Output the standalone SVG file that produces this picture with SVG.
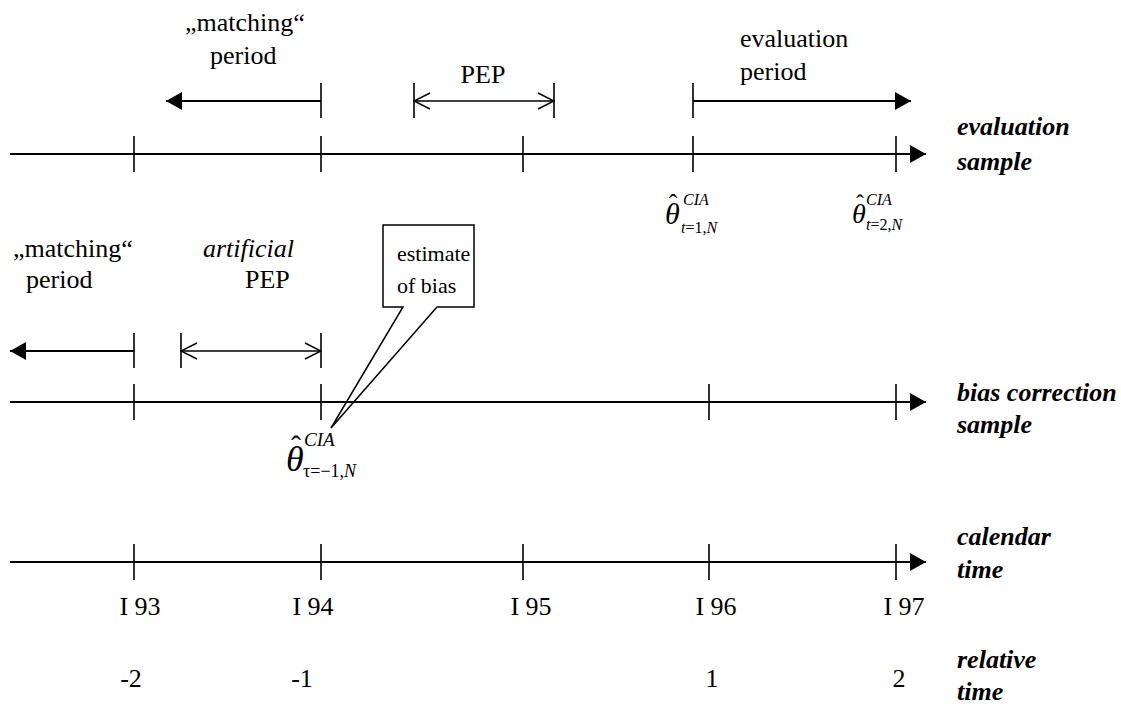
<svg xmlns="http://www.w3.org/2000/svg" width="1121" height="706" viewBox="0 0 1121 706">
  <style>
    text { font-family: "Liberation Serif", "Times New Roman", serif; fill: #000; }
    .lbl { font-size: 26px; }
    .it { font-style: italic; }
    .up { font-style: normal; }
    .axis-name { font-size: 26px; font-style: italic; font-weight: bold; }
    .callout { font-size: 22px; }
    .axis { stroke: #000; stroke-width: 2; fill: none; }
    .tick { stroke: #000; stroke-width: 1.6; fill: none; }
    .span { stroke: #000; stroke-width: 2; fill: none; }
    .thin { stroke: #000; stroke-width: 1.4; fill: none; }
    .theta { font-style: italic; }
    .hat { font-style: normal; }
  </style>
  <defs>
    <marker id="solid" viewBox="0 0 16 18" refX="16" refY="9" markerWidth="16" markerHeight="18" markerUnits="userSpaceOnUse" orient="auto">
      <path d="M0,0 L16,9 L0,18 Z" fill="#000"/>
    </marker>
    <marker id="open" viewBox="0 0 18 18" refX="17" refY="9" markerWidth="18" markerHeight="18" markerUnits="userSpaceOnUse" orient="auto-start-reverse">
      <path d="M1,1 L17,9 L1,17" fill="none" stroke="#000" stroke-width="1.4"/>
    </marker>
  </defs>

  <!-- callout drawn first so the axis shows through its pointer -->
  <g id="callout-bias">
    <path d="M383,225 H474 V307 H437 L331,428 L403,307 H383 Z" fill="#fff" stroke="#000" stroke-width="1.5"/>
    <text class="callout" x="397" y="261">estimate</text>
    <text class="callout" x="397" y="293">of  bias</text>
  </g>

  <g id="connectors">
    <!-- evaluation sample axis -->
    <line class="axis" x1="10" y1="154" x2="926" y2="154" marker-end="url(#solid)"/>
    <line class="tick" x1="134" y1="136" x2="134" y2="172"/>
    <line class="tick" x1="321" y1="136" x2="321" y2="172"/>
    <line class="tick" x1="523" y1="136" x2="523" y2="172"/>
    <line class="tick" x1="693" y1="136" x2="693" y2="172"/>
    <line class="tick" x1="896" y1="136" x2="896" y2="172"/>

    <!-- top period spans -->
    <line class="tick" x1="321" y1="83" x2="321" y2="118"/>
    <line class="span" x1="321" y1="101" x2="166" y2="101" marker-end="url(#solid)"/>
    <line class="tick" x1="414" y1="83" x2="414" y2="118"/>
    <line class="tick" x1="554" y1="83" x2="554" y2="118"/>
    <line class="thin" x1="414" y1="101" x2="554" y2="101" marker-start="url(#open)" marker-end="url(#open)"/>
    <line class="tick" x1="693" y1="83" x2="693" y2="118"/>
    <line class="span" x1="693" y1="101" x2="911" y2="101" marker-end="url(#solid)"/>

    <!-- bias correction sample axis -->
    <line class="axis" x1="10" y1="402" x2="926" y2="402" marker-end="url(#solid)"/>
    <line class="tick" x1="134" y1="384" x2="134" y2="420"/>
    <line class="tick" x1="321" y1="384" x2="321" y2="420"/>
    <line class="tick" x1="709" y1="384" x2="709" y2="420"/>
    <line class="tick" x1="896" y1="384" x2="896" y2="420"/>

    <!-- middle period spans -->
    <line class="tick" x1="134" y1="333" x2="134" y2="368"/>
    <line class="span" x1="134" y1="351" x2="10" y2="351" marker-end="url(#solid)"/>
    <line class="tick" x1="181" y1="333" x2="181" y2="368"/>
    <line class="tick" x1="321" y1="333" x2="321" y2="368"/>
    <line class="thin" x1="181" y1="351" x2="321" y2="351" marker-start="url(#open)" marker-end="url(#open)"/>

    <!-- calendar time axis -->
    <line class="axis" x1="10" y1="562" x2="926" y2="562" marker-end="url(#solid)"/>
    <line class="tick" x1="134" y1="544" x2="134" y2="580"/>
    <line class="tick" x1="321" y1="544" x2="321" y2="580"/>
    <line class="tick" x1="523" y1="544" x2="523" y2="580"/>
    <line class="tick" x1="709" y1="544" x2="709" y2="580"/>
    <line class="tick" x1="896" y1="544" x2="896" y2="580"/>
  </g>

  <g id="label-matching-top">
    <text class="lbl" x="185" y="31">„matching“</text>
    <text class="lbl" x="210" y="64">period</text>
  </g>
  <g id="label-pep-top">
    <text class="lbl" x="483" y="83" text-anchor="middle">PEP</text>
  </g>
  <g id="label-evaluation-period">
    <text class="lbl" x="740" y="47">evaluation</text>
    <text class="lbl" x="740" y="80">period</text>
  </g>

  <g id="label-matching-mid">
    <text class="lbl" x="13" y="257">„matching“</text>
    <text class="lbl" x="26" y="288">period</text>
  </g>
  <g id="label-artificial-pep">
    <text class="lbl it" x="203" y="257">artificial</text>
    <text class="lbl" x="245" y="288">PEP</text>
  </g>

  <!-- estimator labels -->
  <g id="theta-t1">
    <text class="theta" x="665" y="224" font-size="30">θ</text>
    <text class="hat" x="673" y="212" font-size="26" text-anchor="middle">ˆ</text>
    <text class="it" x="683" y="205" font-size="16">CIA</text>
    <text class="it" x="681" y="233" font-size="16">t<tspan class="up">=1,</tspan>N</text>
  </g>
  <g id="theta-t2">
    <text class="theta" x="852" y="223" font-size="28">θ</text>
    <text class="hat" x="860" y="211" font-size="24" text-anchor="middle">ˆ</text>
    <text class="it" x="866" y="205" font-size="16">CIA</text>
    <text class="it" x="866" y="230" font-size="16">t<tspan class="up">=2,</tspan>N</text>
  </g>
  <g id="theta-tau-1">
    <text class="theta" x="286" y="471" font-size="36">θ</text>
    <text class="hat" x="296" y="456" font-size="30" text-anchor="middle">ˆ</text>
    <text class="it" x="304" y="446" font-size="19">CIA</text>
    <text class="up" x="303" y="477" font-size="18">τ=−1,<tspan class="it">N</tspan></text>
  </g>

  <!-- axis names -->
  <g id="name-evaluation-sample">
    <text class="axis-name" x="957" y="135">evaluation</text>
    <text class="axis-name" x="957" y="170">sample</text>
  </g>
  <g id="name-bias-correction-sample">
    <text class="axis-name" x="957" y="401">bias correction</text>
    <text class="axis-name" x="957" y="433">sample</text>
  </g>
  <g id="name-calendar-time">
    <text class="axis-name" x="957" y="545">calendar</text>
    <text class="axis-name" x="957" y="578">time</text>
  </g>
  <g id="name-relative-time">
    <text class="axis-name" x="957" y="668">relative</text>
    <text class="axis-name" x="957" y="700">time</text>
  </g>

  <!-- calendar quarters -->
  <g id="calendar-ticks">
    <text class="lbl" x="140" y="615" text-anchor="middle">I 93</text>
    <text class="lbl" x="313" y="615" text-anchor="middle">I 94</text>
    <text class="lbl" x="531" y="615" text-anchor="middle">I 95</text>
    <text class="lbl" x="716" y="615" text-anchor="middle">I 96</text>
    <text class="lbl" x="904" y="615" text-anchor="middle">I 97</text>
  </g>
  <!-- relative periods -->
  <g id="relative-ticks">
    <text class="lbl" x="131" y="687" text-anchor="middle">-2</text>
    <text class="lbl" x="302" y="687" text-anchor="middle">-1</text>
    <text class="lbl" x="712" y="687" text-anchor="middle">1</text>
    <text class="lbl" x="899" y="687" text-anchor="middle">2</text>
  </g>
</svg>
